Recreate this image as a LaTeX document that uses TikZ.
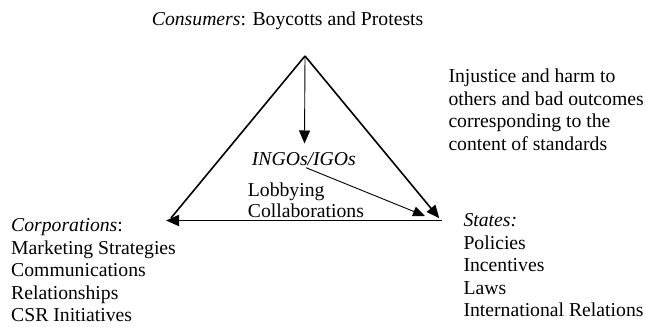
\documentclass[tikz,border=0pt]{standalone}
\usepackage{fontspec}
\setmainfont{Liberation Serif}
\usetikzlibrary{arrows.meta}
\begin{document}
\begin{tikzpicture}[x=1pt,y=-1pt,
  lbl/.style={font=\fontsize{19.7}{22.5}\selectfont, inner sep=0pt, anchor=base west, align=left},
  edge/.style={line width=1.6pt},
  thinedge/.style={line width=0.9pt},
  bigtip/.style={-{Triangle[length=13pt,width=11pt]}},
  smalltip/.style={-{Triangle[length=12pt,width=10pt]}}]
\useasboundingbox (0,0) rectangle (646,327);
% corners
\coordinate (apex) at (305,56);
\coordinate (L) at (166,220.5);
\coordinate (Ltop) at (171,218);
\coordinate (R) at (441.7,220.5);
\coordinate (Rtip) at (439.3,218.3);
\coordinate (vtip) at (304.5,143.5);
\coordinate (dstart) at (306,167.7);
\coordinate (dtip) at (425,216);
% labels (multi-line nodes: base = baseline of last line)
\node[lbl] (cons) at (151.7,25) {\textit{Consumers}: Boycotts and Protests};
\node[lbl] (inj) at (448.3,150.2) {Injustice and harm to\\others and bad outcomes\\corresponding to the\\content of standards};
\node[lbl] (corp) at (11,321.7) {\textit{Corporations}:\\Marketing Strategies\\Communications\\Relationships\\CSR Initiatives};
\node[lbl] (states) at (463.3,316.7) {\textit{States:}\\Policies\\Incentives\\Laws\\International Relations};
\node[lbl] (ingo) at (251.7,165) {\textit{INGOs/IGOs}};
\node[lbl, font=\fontsize{19.7}{20.8}\selectfont] (lobby) at (247.7,217.3) {Lobbying\\Collaborations};
% triangle
\draw[edge] (apex) -- (Ltop);
\draw[edge, bigtip] (apex) -- (Rtip);
\draw[edge, bigtip] (R) -- (L);
\draw[thinedge, bigtip] (apex) -- (vtip);
\draw[thinedge, smalltip] (dstart) -- (dtip);
\end{tikzpicture}
\end{document}
